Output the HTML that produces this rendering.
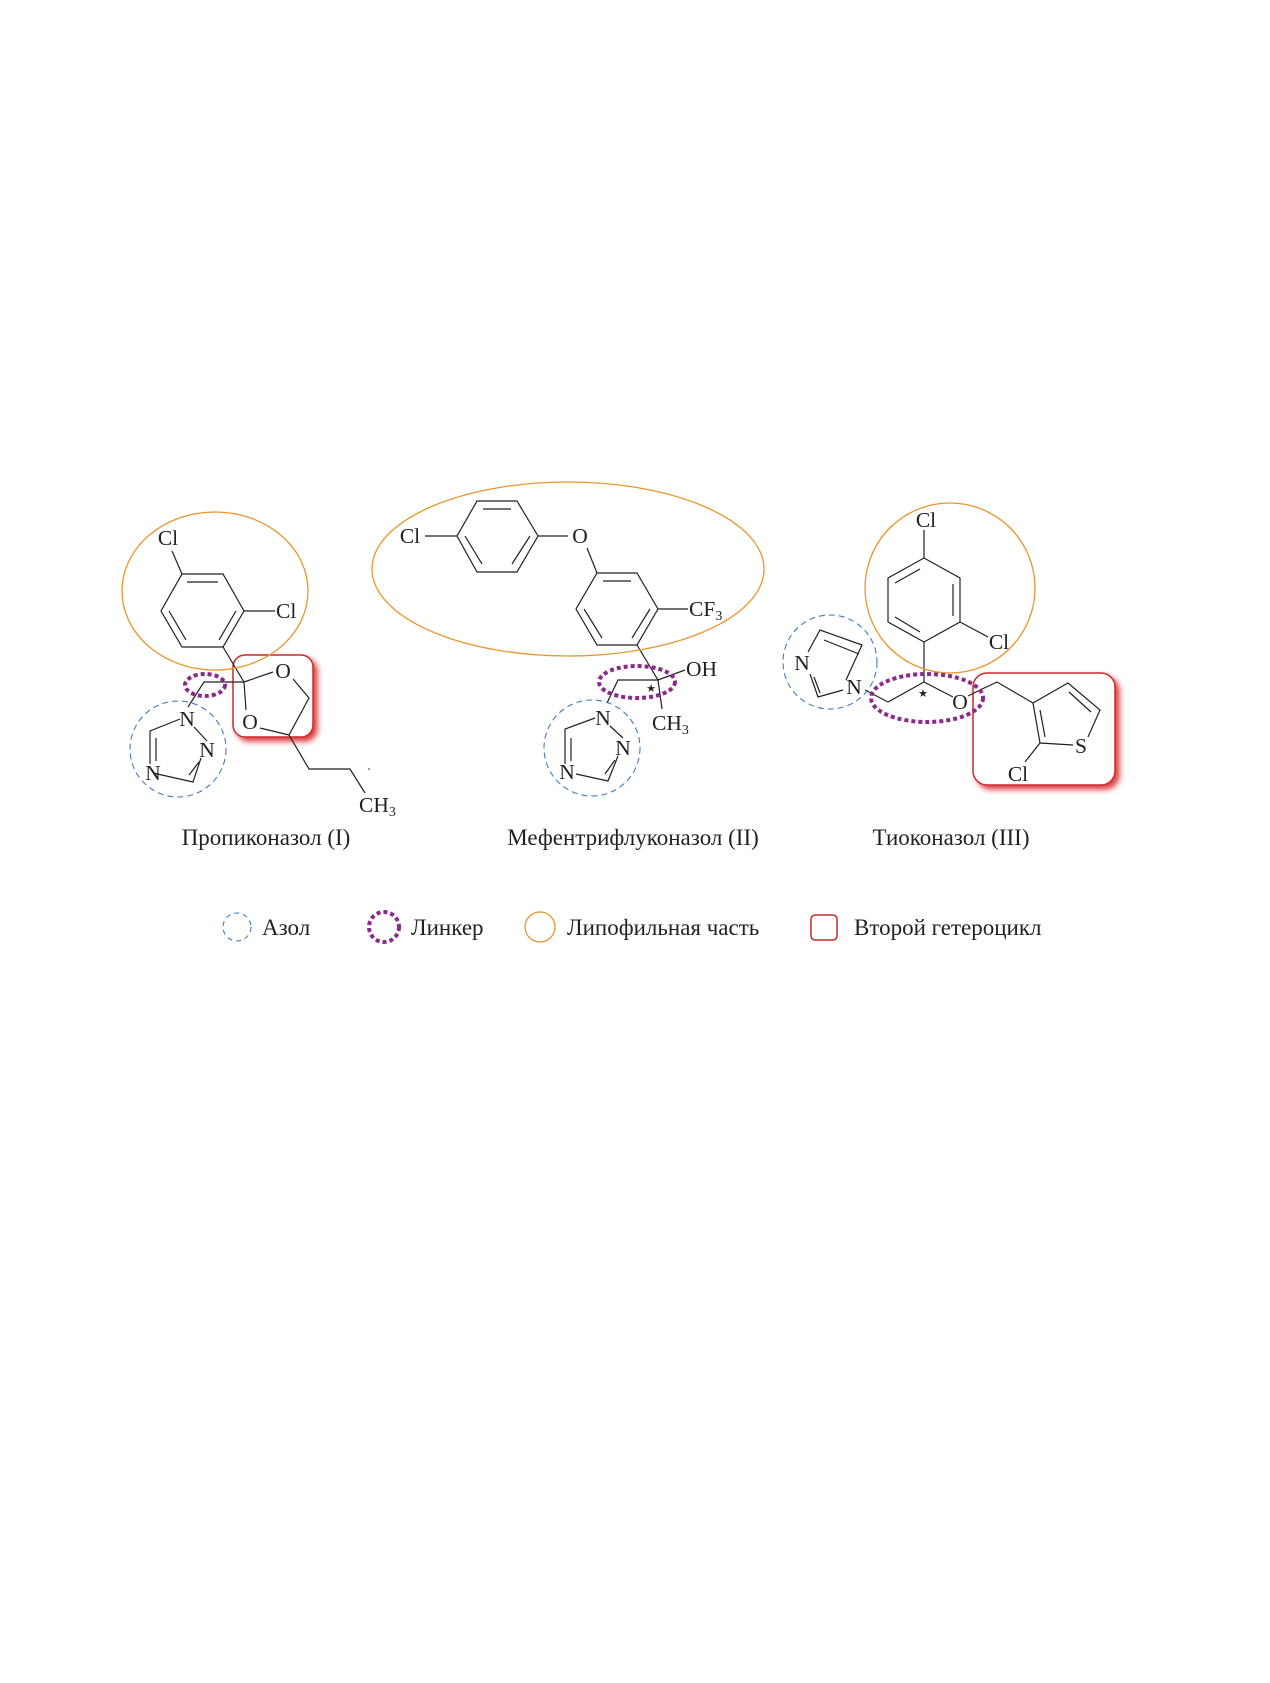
<!DOCTYPE html>
<html><head><meta charset="utf-8"><style>
html,body{margin:0;padding:0;background:#fff;}
svg{display:block;}
text{font-family:"Liberation Serif",serif;fill:#231f20;}
</style></head><body>
<svg width="1270" height="1683" viewBox="0 0 1270 1683" xmlns="http://www.w3.org/2000/svg">
<defs>
<filter id="glow" x="-20%" y="-20%" width="150%" height="150%">
<feGaussianBlur in="SourceAlpha" stdDeviation="3"/>
<feOffset dx="4" dy="4" result="b"/>
<feFlood flood-color="#d42020" flood-opacity="0.85"/>
<feComposite in2="b" operator="in"/>
<feMerge><feMergeNode/><feMergeNode in="SourceGraphic"/></feMerge>
</filter>
</defs>

<rect x="233" y="655" width="80" height="82" rx="12" fill="#fff" stroke="#cc2a2a" stroke-width="1.5" filter="url(#glow)"/>
<rect x="973" y="673" width="142" height="112" rx="14" fill="#fff" stroke="#cc2a2a" stroke-width="1.5" filter="url(#glow)"/>

<g stroke="#231f20" stroke-width="1.2" fill="none">
<path d="M182,574 L223,574 L244,611 L223,647 L182,647 L161,611 Z"/>
<path d="M187,582 L218,582 M236,611 L219,640 M169,611 L186,640"/>
<path d="M172,551 L182,574"/>
<path d="M244,611 L275,611"/>
<path d="M223,647 L244,682 L273,672"/>
<path d="M244,682 L246,710"/>
<path d="M293,679 L309,698 L289,735 L260,728"/>
<path d="M289,735 L309,769 L350,769 L365,793"/>
<path d="M244,682 L204,682 L188,707"/>
<path d="M194,727 L207,741 M201,758 L193,782 L153,773 M150,764 L150,731 L180,719"/>
<path d="M199,762 L189,775 M156,761 L156,738"/>
<path d="M425,536 L457,536"/>
<path d="M457,536 L477,501 L517,501 L538,536 L517,572 L477,572 Z"/>
<path d="M483,509 L511,509 M465,536 L482,564 M530,536 L512,564"/>
<path d="M538,536 L568,536"/>
<path d="M587,548 L597,573"/>
<path d="M597,573 L637,573 L658,609 L637,645 L597,645 L576,609 Z"/>
<path d="M603,581 L631,581 M584,609 L602,638 M650,609 L632,638"/>
<path d="M658,609 L688,609"/>
<path d="M637,645 L658,680 L685,670"/>
<path d="M658,680 L662,709"/>
<path d="M658,680 L618,680 L607,703"/>
<path d="M610,726 L623,738 M618,756 L608,781 L576,774 M565,764 L565,729 L595,718"/>
<path d="M615,760 L605,774 M571,761 L571,738"/>
<path d="M924,530 L924,558"/>
<path d="M924,558 L960,578 L960,622 L924,642 L888,622 L888,578 Z"/>
<path d="M953,584 L953,616 M895,617 L920,632 M895,583 L920,569"/>
<path d="M960,622 L988,637"/>
<path d="M924,642 L924,682"/>
<path d="M924,682 L953,697"/>
<path d="M924,682 L888,702 L865,690"/>
<path d="M968,696 L980,690 L997,682 L1033,703"/>
<path d="M1033,703 L1068,683 L1100,710 L1088,737 M1073,745 L1040,743 L1033,703"/>
<path d="M1069,692 L1091,712 M1040,710 L1045,737"/>
<path d="M1040,743 L1025,762"/>
<path d="M846,680 L862,645 L820,630 L808,652 M810,674 L818,697 L843,690"/>
<path d="M859,654 L824,640 M814,677 L820,693"/>
</g>

<g font-size="21.5">
<text x="168" y="545" text-anchor="middle">Cl</text>
<text x="276" y="618">Cl</text>
<text x="283" y="678" text-anchor="middle">O</text>
<text x="250" y="729" text-anchor="middle">O</text>
<text x="359" y="812">CH<tspan font-size="14" dy="4">3</tspan></text>
<text x="187" y="726" text-anchor="middle">N</text>
<text x="207" y="757" text-anchor="middle">N</text>
<text x="153" y="780" text-anchor="middle">N</text>
<text x="410" y="543" text-anchor="middle">Cl</text>
<text x="580" y="543" text-anchor="middle">O</text>
<text x="689" y="616">CF<tspan font-size="14" dy="4">3</tspan></text>
<text x="686" y="676">OH</text>
<text x="652" y="730">CH<tspan font-size="14" dy="4">3</tspan></text>
<text x="603" y="725" text-anchor="middle">N</text>
<text x="623" y="755" text-anchor="middle">N</text>
<text x="567" y="779" text-anchor="middle">N</text>
<text x="926" y="527" text-anchor="middle">Cl</text>
<text x="999" y="649" text-anchor="middle">Cl</text>
<text x="960" y="709" text-anchor="middle">O</text>
<text x="1081" y="753" text-anchor="middle">S</text>
<text x="1018" y="781" text-anchor="middle">Cl</text>
<text x="854" y="694" text-anchor="middle">N</text>
<text x="802" y="670" text-anchor="middle">N</text>
</g>
<g font-size="11">
<text x="651" y="692" text-anchor="middle">★</text>
<text x="923" y="697" text-anchor="middle">★</text>
</g>
<circle cx="369" cy="769" r="0.8" fill="#231f20"/>

<g fill="none" stroke="#e8962e" stroke-width="1.3">
<ellipse cx="215" cy="591" rx="93" ry="79"/>
<ellipse cx="568" cy="569" rx="196" ry="87"/>
<circle cx="950" cy="588" r="85"/>
</g>
<g fill="none" stroke="#3f7dbf" stroke-width="1.1" stroke-dasharray="6 4">
<circle cx="178" cy="749" r="48"/>
<circle cx="592" cy="748" r="48"/>
<circle cx="830" cy="662" r="47"/>
</g>
<g fill="none" stroke="#8a2a8a" stroke-width="4" stroke-dasharray="4 3">
<ellipse cx="205" cy="685" rx="20" ry="11"/>
<ellipse cx="637" cy="682" rx="38" ry="16"/>
<ellipse cx="927" cy="698" rx="56" ry="24"/>
</g>

<g font-size="23">
<text x="266" y="845" text-anchor="middle">Пропиконазол (I)</text>
<text x="633" y="845" text-anchor="middle">Мефентрифлуконазол (II)</text>
<text x="951" y="845" text-anchor="middle">Тиоконазол (III)</text>
</g>

<circle cx="237" cy="927" r="14" fill="none" stroke="#3f7dbf" stroke-width="1.1" stroke-dasharray="5 4"/>
<circle cx="384" cy="927" r="15" fill="none" stroke="#8a2a8a" stroke-width="4" stroke-dasharray="4 3"/>
<circle cx="540" cy="927" r="15" fill="none" stroke="#e8962e" stroke-width="1.3"/>
<rect x="811" y="915" width="26" height="25" rx="4" fill="#fff" stroke="#cc2a2a" stroke-width="1.5"/>
<g font-size="23">
<text x="262" y="935">Азол</text>
<text x="411" y="935">Линкер</text>
<text x="567" y="935">Липофильная часть</text>
<text x="854" y="935">Второй гетероцикл</text>
</g>
</svg>
</body></html>
